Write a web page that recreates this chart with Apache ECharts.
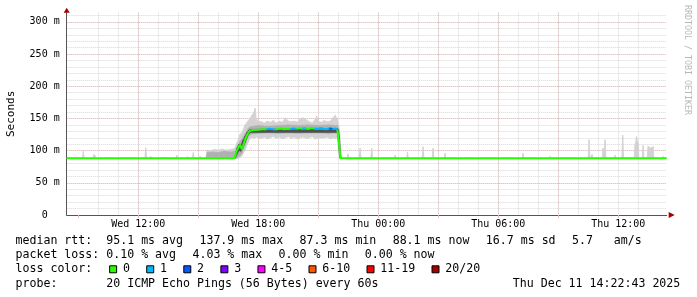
<!DOCTYPE html>
<html><head><meta charset="utf-8">
<script src="https://cdn.jsdelivr.net/npm/echarts@6/dist/echarts.min.js"></script>
<style>html,body{margin:0;padding:0;background:#fff}#c{width:697px;height:297px}</style>
</head><body><div id="c"></div>
<script>
// ---------- data (hours since Wed 00:00, milliseconds) ----------
const xTickHours = [12, 18, 24, 30, 36];
const xTickLabels = ['Wed 12:00', 'Wed 18:00', 'Thu 00:00', 'Thu 06:00', 'Thu 12:00'];
const xMajorHours = [9, 12, 15, 18, 21, 24, 27, 30, 33, 36];
const yTickValues = [0, 50, 100, 150, 200, 250, 300];
const yTickLabels = ['0  ', '50 m', '100 m', '150 m', '200 m', '250 m', '300 m'];

const medianTime = [8.42, 16.80, 16.935, 17.085, 17.185, 17.335, 17.485, 17.585, 17.735, 17.835, 17.985,
  18.10, 18.25, 18.40, 18.55, 18.70, 18.85, 19.00, 19.15, 19.30, 19.45, 19.60, 19.75, 19.90, 20.05,
  20.20, 20.35, 20.50, 20.65, 20.80, 20.95, 21.10, 21.25, 21.40, 21.55, 21.70, 21.85, 21.95, 22.02,
  22.10, 22.25, 38.42];
const medianRtt = [88.0, 88.0, 101, 109, 102, 117, 127, 131, 132, 129.5, 132.5,
  132.8, 133.5, 133.0, 134.2, 133.4, 132.6, 133.8, 134.5, 133.2, 134.0, 133.1, 134.6, 133.7, 135.0,
  134.1, 134.8, 133.6, 135.2, 134.3, 133.5, 134.9, 134.0, 133.2, 134.4, 133.6, 134.2, 133.0, 118,
  88.5, 88.1, 88.1];
const medianLoss = [0, 0, 0, 0, 0, 0, 0, 0, 0, 0, 0,
  0, 0, 0, 1, 1, 1, 0, 0, 0, 0, 0, 1, 1, 0,
  0, 1, 0, 0, 0, 1, 0, 1, 0, 1, 2, 1, 1, 0,
  0, 0, 0];

// smoke: [hour, lowest ping, highest ping]
const smokeOuter = [
  [8.42,88,88],
  [9.20,88,88],[9.25,88,99],[9.30,88,88],
  [9.72,88,88],[9.78,88,94],[9.84,88,92],[9.90,88,88],
  [12.32,88,88],[12.37,88,104.5],[12.42,88,88],
  [12.55,88,88],[12.62,88,91],[12.70,88,88],
  [13.20,88,88],[13.30,88,90],[13.40,88,88],
  [13.87,88,88],[13.92,88,93],[13.97,88,88],
  [14.41,88,88],[14.46,88,91],[14.51,88,88],
  [14.70,88,88],[14.75,88,97],[14.80,88,88],
  [15.04,88,88],[15.09,88,91],[15.14,88,88],
  [15.38,88,88],[15.43,88,101],[15.60,88,100],[15.80,88,102],[16.00,88,101],[16.20,88,102.5],[16.40,88,101],[16.60,88,102],[16.80,88,103],
  [16.93,88,112],[17.08,89,125],[17.18,92,128],[17.33,100,140],[17.48,112,146],[17.58,118,150],[17.68,120,155],[17.78,119,160],[17.84,120,166],[17.90,121,150],[18.00,120,146],
  [18.15,119,145],[18.30,121,143],[18.45,118,146],[18.60,120,144],[18.75,122,147],[18.90,119,143],[19.05,121,146],[19.20,118,144],[19.35,120,151],[19.50,122,146],
  [19.65,119,145],[19.80,121,146],[19.95,118,144],[20.10,120,150],[20.25,121,151],[20.40,119,148],[20.55,120,145],[20.70,122,143],[20.85,118,149],[20.92,119,153],
  [21.00,121,146],[21.15,119,144],[21.30,120,147],[21.45,121,145],[21.60,118,146],[21.75,120,152],[21.85,119,155],[21.95,120,149],
  [22.02,100,140],[22.08,88,120],[22.14,88,92],[22.20,88,88],
  [22.44,88,88],[22.49,88,95],[22.54,88,88],
  [23.04,88,88],[23.09,88,104],[23.14,88,88],
  [23.62,88,88],[23.67,88,104],[23.72,88,88],
  [24.79,88,88],[24.84,88,93],[24.89,88,88],
  [25.41,88,88],[25.46,88,98],[25.51,88,88],
  [26.19,88,88],[26.24,88,106],[26.29,88,88],
  [26.69,88,88],[26.74,88,104],[26.79,88,88],
  [27.29,88,88],[27.34,88,96],[27.39,88,88],
  [31.19,88,88],[31.24,88,96],[31.29,88,88],
  [32.54,88,88],[32.59,88,91],[32.64,88,88],
  [34.49,88,88],[34.54,88,117],[34.59,88,88],[34.69,88,94],[34.74,88,88],
  [35.19,88,88],[35.24,88,104],[35.29,88,96],[35.34,88,117],[35.39,88,88],
  [35.79,88,88],[35.84,88,93],[35.89,88,88],
  [36.17,88,88],[36.22,88,124],[36.27,88,88],
  [36.79,88,88],[36.84,88,110],[36.91,88,122],[36.99,88,112],[37.04,88,88],
  [37.19,88,88],[37.24,88,108],[37.29,88,88],
  [37.44,88,88],[37.49,88,107],[37.60,88,104],[37.74,88,106],[37.79,88,88],
  [38.19,88,88],[38.24,88,91],[38.29,88,88],
  [38.42,88,88]
];
const smokeInner = [
  [15.40,88,88],[15.45,88,97],[15.70,88,98],[16.00,88,97],[16.30,88,99],[16.60,88,98],[16.83,88,99],
  [16.93,88,104],[17.08,92,114],[17.18,96,118],[17.33,108,126],[17.48,120,134],[17.58,125,137],[17.75,126,138],
  [18.00,127,139],[18.50,128,138],[19.00,127,139],[19.50,128,140],[20.00,127,139],[20.50,128,140],[21.00,128,139],[21.50,127,140],[21.95,128,139],
  [22.02,104,134],[22.08,88,110],[22.14,88,90],[22.18,88,88]
];
const smokeCore = [
  [16.85,88,90],[16.93,94,104],[17.03,100,110],[17.13,99,108],[17.23,104,116],[17.33,112,122],[17.43,120,128],[17.53,126,132],[17.60,128,133],
  [21.97,128,134],[22.01,112,132],[22.06,90,120],[22.10,88,95],[22.13,88,88]
];

const lossNames = ['0', '1', '2', '3', '4-5', '6-10', '11-19', '20/20'];
const lossColors = ['#26ff00', '#00b8ff', '#0059ff', '#7e00ff', '#ff00ff', '#ff5500', '#ff0000', '#a10000'];

const rttItems = ['median rtt:  95.1 ms avg', '137.9 ms max', '87.3 ms min', '88.1 ms now', '16.7 ms sd', '5.7   am/s'];
const lossItems = ['packet loss: 0.10 % avg', '4.03 % max', '0.00 % min', '0.00 % now'];
const colorTitle = 'loss color:';
const probeText = 'probe:       20 ICMP Echo Pings (56 Bytes) every 60s';
const stampText = 'Thu Dec 11 14:22:43 2025';
const watermark = 'RRDTOOL / TOBI OETIKER';

// ---------- chart ----------
const MONO = '"DejaVu Sans Mono", monospace';
const FS = 11.6, CHW = FS * 0.6021, LEG_GAP = 16.3, TX0 = 15.5;
const X_MIN = 8.42, X_MAX = 38.42, Y_MAX = 314.3;
const GRID_MINOR = '#d8d8d8', GRID_MAJOR = '#ecb4b4', AXIS = '#555', ARROW = '#a00000';

const hourGrid = [];
for (let h = Math.ceil(X_MIN); h <= X_MAX; h++) hourGrid.push(h);

const chart = echarts.init(document.getElementById('c'), null, {renderer: 'canvas', width: 697, height: 297});

const series = [];
function addBand(rows, color) {
  const segs = [];
  for (let i = 0; i + 1 < rows.length; i++) {
    segs.push([rows[i][0], rows[i][1], rows[i][2], rows[i + 1][0], rows[i + 1][1], rows[i + 1][2]]);
  }
  series.push({
    type: 'custom', silent: true, z: 1, clip: true,
    encode: {x: [0, 3], y: [1, 2, 4, 5]},
    data: segs,
    renderItem: (params, api) => {
      const a = api.coord([api.value(0), api.value(1)]);
      const b = api.coord([api.value(3), api.value(4)]);
      const c = api.coord([api.value(3), api.value(5)]);
      const d = api.coord([api.value(0), api.value(2)]);
      return {type: 'polygon', shape: {points: [a, b, c, d]}, style: {fill: color, stroke: color, lineWidth: 0.6}};
    }
  });
}
addBand(smokeOuter, '#d2d2d2');
addBand(smokeInner, '#b0b0b0');
addBand(smokeCore, '#505050');

lossNames.forEach((name, level) => {
  series.push({
    type: 'line', name: name, symbol: 'none', connectNulls: false, z: 3 + level,
    data: medianTime.map((t, i) => [t, (medianLoss[i] === level || medianLoss[i + 1] === level) ? medianRtt[i] : null]),
    lineStyle: {color: lossColors[level], width: 2},
    itemStyle: {color: lossColors[level]}
  });
});

const graphic = [];
function txt(text, x, y, align) {
  graphic.push({type: 'text', x: x, y: y, silent: true,
    style: {text: text, fill: '#000', font: FS + 'px ' + MONO, align: align || 'left', verticalAlign: 'middle'}});
}
function row(items, y) {
  let x = TX0;
  items.forEach(s => { txt(s, x, y); x += s.length * CHW + LEG_GAP; });
}
row(rttItems, 241);
row(lossItems, 255.3);
row([colorTitle], 269.3);
row([probeText], 283.7);
txt(stampText, 680.3, 283.7, 'right');
graphic.push({type: 'text', x: 687, y: 60, rotation: -Math.PI / 2, silent: true,
  style: {text: watermark, fill: '#b8b8b8', font: '8.3px ' + MONO, align: 'center', verticalAlign: 'middle'}});

const option = {
  animation: false,
  backgroundColor: '#ffffff',
  grid: {left: 66.7, right: 30.3, top: 12.7, bottom: 82, containLabel: false, outerBoundsMode: 'none'},
  legend: {
    data: lossNames, left: TX0 + colorTitle.length * CHW + LEG_GAP + 0.5, top: 262.3, orient: 'horizontal', icon: 'rect',
    itemWidth: 7, itemHeight: 7, itemGap: LEG_GAP, padding: 0, selectedMode: false,
    itemStyle: {borderColor: '#000', borderWidth: 1},
    textStyle: {fontFamily: MONO, fontSize: FS, color: '#000', lineHeight: 14, padding: [0, 0, 0, 1.3]}
  },
  xAxis: [
    {type: 'value', min: X_MIN, max: X_MAX, position: 'bottom',
      axisLine: {show: true, onZero: false, lineStyle: {color: AXIS, width: 1}},
      axisTick: {show: false, customValues: hourGrid},
      axisLabel: {margin: 4, fontFamily: MONO, fontSize: 10, color: '#000', customValues: xTickHours,
        formatter: v => { const i = xTickHours.findIndex(h => Math.abs(h - v) < 1e-6); return i < 0 ? '' : xTickLabels[i]; }},
      splitLine: {show: true, showMinLine: false, showMaxLine: false, lineStyle: {color: GRID_MINOR, type: [1, 1], width: 1}}},
    {type: 'value', min: X_MIN, max: X_MAX, position: 'bottom',
      axisLine: {show: true, onZero: false, symbol: ['none', 'triangle'], symbolSize: [6, 6], symbolOffset: [0, 5],
        lineStyle: {color: ARROW, width: 0}},
      axisTick: {show: true, length: 3, customValues: xMajorHours, lineStyle: {color: GRID_MAJOR}},
      axisLabel: {show: false},
      splitLine: {show: true, showMinLine: false, showMaxLine: false, lineStyle: {color: GRID_MAJOR, type: [1, 1], width: 1}}}
  ],
  yAxis: [
    {type: 'value', min: 0, max: Y_MAX, interval: 10, position: 'left',
      name: 'Seconds', nameLocation: 'middle', nameGap: 50,
      nameTextStyle: {fontFamily: MONO, fontSize: 11, color: '#000'},
      axisLine: {show: true, onZero: false, lineStyle: {color: AXIS, width: 1}},
      axisTick: {show: false},
      axisLabel: {margin: 7, fontFamily: MONO, fontSize: 10, color: '#000',
        formatter: v => { const i = yTickValues.findIndex(t => Math.abs(t - v) < 1e-6); return i < 0 ? '' : yTickLabels[i]; }},
      splitLine: {show: true, showMinLine: false, showMaxLine: false, lineStyle: {color: GRID_MINOR, type: [1, 1], width: 1}}},
    {type: 'value', min: 0, max: Y_MAX, interval: 50, position: 'left',
      axisLine: {show: true, onZero: false, symbol: ['none', 'triangle'], symbolSize: [6, 5], symbolOffset: [0, 2.5],
        lineStyle: {color: ARROW, width: 0}},
      axisTick: {show: false},
      axisLabel: {show: false},
      splitLine: {show: true, showMinLine: false, showMaxLine: false, lineStyle: {color: GRID_MAJOR, type: [1, 1], width: 1}}}
  ],
  series: series,
  graphic: graphic
};
chart.setOption(option);
</script>
</body></html>
